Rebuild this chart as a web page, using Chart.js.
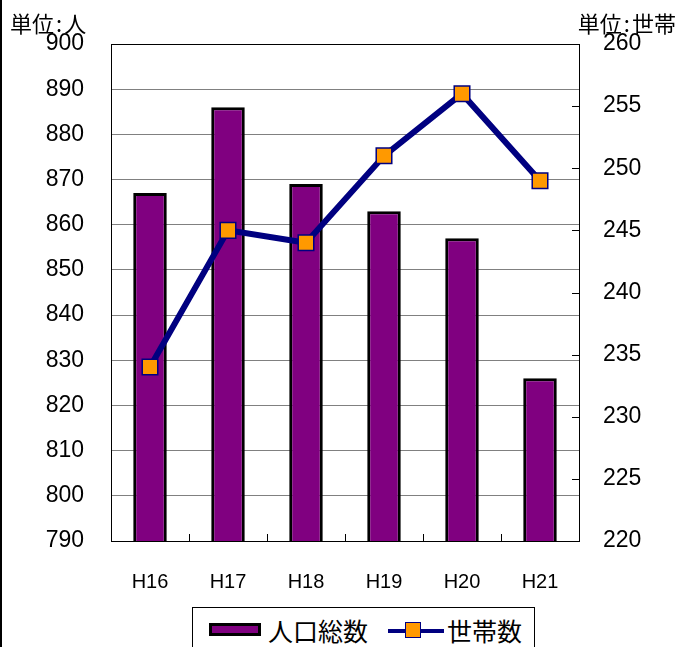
<!DOCTYPE html>
<html>
<head>
<meta charset="utf-8">
<script src="https://cdn.jsdelivr.net/npm/chart.js@4/dist/chart.umd.min.js"></script>
<style>
  html, body { margin: 0; padding: 0; background: #fff; }
  #wrap { position: relative; width: 679px; height: 647px; overflow: hidden; }
  #edge { position: absolute; left: 0; top: 0; width: 2px; height: 647px; background: #000; }
  .unit { position: absolute; top: 8px; font: 22px "Noto Sans CJK JP", sans-serif; line-height: 28px; color: #000; white-space: nowrap; }
  .unit i { font-style: normal; padding: 0 2px; }
  #legend { position: absolute; left: 192px; top: 607px; width: 341px; height: 60px; border: 1px solid #000; background: #fff;
            font: 25px "Noto Sans CJK JP", sans-serif; color: #000; }
  #legend span { position: absolute; top: 5px; line-height: 34px; white-space: nowrap; }
  .barSw { position: absolute; left: 16px; top: 15px; width: 46px; height: 7px; background: #800080; border: 3px solid #000; }
  .lineSw { position: absolute; left: 195px; top: 21px; width: 56px; height: 4px; background: #000080; }
  .mark { position: absolute; left: 212px; top: 14px; width: 14px; height: 14px; background: #ff9900; border: 1.5px solid #000080; }
</style>
</head>
<body>
<div id="wrap">
  <canvas id="chart" width="679" height="647"></canvas>
  <div id="edge"></div>
  <div class="unit" style="left:10px">単位<i>:</i>人</div>
  <div class="unit" style="right:3px">単位<i>:</i>世帯</div>
  <div id="legend">
    <div class="barSw"></div><span style="left:75px">人口総数</span>
    <div class="lineSw"></div><div class="mark"></div><span style="left:254px">世帯数</span>
  </div>
</div>
<script>
const years = ['H16', 'H17', 'H18', 'H19', 'H20', 'H21'];
const population = [867, 886, 869, 863, 857, 826];
const households = [234, 245, 244, 251, 256, 249];

// inward tick marks on the right axis and between categories, plus the plot frame
const tickMarks = {
    id: 'tickMarks',
    beforeDatasetsDraw(chart) {
        const ctx = chart.ctx;
        const a = chart.chartArea;
        const y2 = chart.scales.y2;
        const x = chart.scales.x;
        ctx.save();
        ctx.strokeStyle = '#000';
        ctx.lineWidth = 1;
        ctx.beginPath();
        y2.ticks.forEach(t => {
            const py = Math.round(y2.getPixelForValue(t.value)) + 0.5;
            ctx.moveTo(a.right - 7, py);
            ctx.lineTo(a.right, py);
        });
        for (let i = 1; i < years.length; i++) {
            const px = Math.round((x.getPixelForValue(i - 1) + x.getPixelForValue(i)) / 2) + 0.5;
            ctx.moveTo(px, a.bottom - 7);
            ctx.lineTo(px, a.bottom);
        }
        ctx.stroke();
        ctx.strokeRect(Math.round(a.left) + 0.5, Math.round(a.top) + 0.5, Math.round(a.right - a.left), Math.round(a.bottom - a.top));
        ctx.restore();
    }
};

const numFont = { family: '"Liberation Sans", Arial, sans-serif', size: 23 };

new Chart(document.getElementById('chart').getContext('2d'), {
    data: {
        labels: years,
        datasets: [{
            type: 'line',
            label: '世帯数',
            data: households,
            yAxisID: 'y2',
            order: 0,
            borderColor: '#000080',
            borderWidth: 6,
            tension: 0,
            pointStyle: 'rect',
            pointRadius: 11,
            pointBackgroundColor: '#ff9900',
            pointBorderColor: '#000080',
            pointBorderWidth: 1.5
        }, {
            type: 'bar',
            label: '人口総数',
            data: population,
            yAxisID: 'y',
            order: 1,
            backgroundColor: '#800080',
            borderColor: '#000',
            borderWidth: 3,
            borderSkipped: false,
            barPercentage: 0.43,
            categoryPercentage: 1
        }]
    },
    options: {
        responsive: false,
        animation: false,
        layout: { padding: { top: 44, left: 0, right: 0, bottom: 0 } },
        plugins: {
            legend: { display: false },
            tooltip: { enabled: false }
        },
        scales: {
            x: {
                offset: true,
                grid: { display: false, drawTicks: false },
                border: { display: false },
                ticks: { color: '#000', padding: 29, font: { family: '"Liberation Sans", Arial, sans-serif', size: 20 } },
                afterFit(s) { s.height = 106; }
            },
            y: {
                position: 'left',
                min: 790,
                max: 900,
                grid: { color: '#808080', drawTicks: false },
                border: { display: false },
                ticks: { stepSize: 10, color: '#000', padding: 27, font: numFont },
                afterFit(s) { s.width = 111; }
            },
            y2: {
                position: 'right',
                min: 220,
                max: 260,
                grid: { drawOnChartArea: false, drawTicks: false },
                border: { display: false },
                ticks: { stepSize: 5, color: '#000', padding: 24, font: numFont },
                afterFit(s) { s.width = 100; }
            }
        }
    },
    plugins: [tickMarks]
});
</script>
</body>
</html>
